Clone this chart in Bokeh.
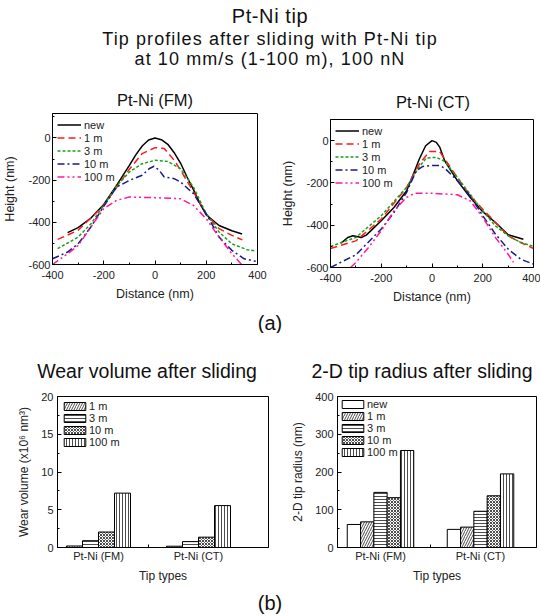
from bokeh.plotting import figure
from bokeh.layouts import column, row
from bokeh.models import Div, Legend, FixedTicker, Range1d, ColumnDataSource
from bokeh.transform import dodge
from bokeh.embed import file_html
from bokeh.resources import INLINE

FONT = "Liberation Sans"

# ---------------- texts ----------------
main_title = "Pt-Ni tip"
sub_title_1 = "Tip profiles after sliding with Pt-Ni tip"
sub_title_2 = "at 10 mm/s (1-100 m), 100 nN"
fm_title = "Pt-Ni (FM)"
ct_title = "Pt-Ni (CT)"
wear_title = "Wear volume after sliding"
radius_title = "2-D tip radius after sliding"

# ---------------- data: (a) tip profiles ----------------
series_names = ["new", "1 m", "3 m", "10 m", "100 m"]

fm_new_x = [-341, -300, -250, -200, -150, -100, -75, -50, -25, 0, 25, 50, 75, 100, 125, 150, 175, 200, 250, 300, 340]
fm_new_y = [-449, -425, -380, -315, -225, -130, -80, -38, -10, 0, -8, -30, -70, -120, -185, -245, -310, -365, -415, -440, -455]
fm_1m_x = [-380, -300, -200, -150, -100, -50, 0, 36, 75, 100, 150, 200, 250, 300, 341]
fm_1m_y = [-481, -438, -320, -235, -148, -74, -46, -50, -106, -153, -256, -360, -430, -462, -483]
fm_3m_x = [-380, -300, -250, -200, -150, -100, -50, 0, 49, 100, 150, 200, 250, 300, 360, 390]
fm_3m_y = [-525, -470, -407, -320, -228, -161, -122, -106, -111, -146, -233, -360, -446, -502, -530, -535]
fm_10m_x = [-400, -341, -300, -250, -200, -150, -100, -50, -23, -4, 16, 36, 75, 100, 150, 200, 250, 300, 348, 393]
fm_10m_y = [-573, -541, -502, -422, -324, -233, -201, -177, -146, -134, -153, -185, -193, -209, -264, -360, -470, -533, -573, -585]
fm_100m_x = [-400, -341, -300, -250, -200, -150, -100, 0, 100, 150, 200, 250, 300, 341]
fm_100m_y = [-600, -549, -510, -422, -335, -296, -280, -283, -288, -320, -383, -470, -549, -604]

ct_new_x = [-358, -332, -312, -296, -279, -259, -200, -150, -100, -68, -50, -25, 0, 17, 31, 50, 100, 150, 200, 250, 300, 360]
ct_new_y = [-485, -458, -450, -453, -458, -447, -379, -316, -237, -142, -87, -24, 0, -8, -32, -95, -189, -268, -336, -387, -445, -466]
ct_1m_x = [-400, -300, -200, -100, -50, -10, 30, 50, 100, 150, 200, 250, 300, 350, 400]
ct_1m_y = [-510, -474, -371, -221, -111, -51, -51, -87, -174, -261, -324, -387, -450, -482, -510]
ct_3m_x = [-400, -300, -200, -100, -50, -22, 17, 50, 100, 150, 200, 250, 300, 350, 400]
ct_3m_y = [-500, -458, -355, -221, -123, -82, -79, -98, -174, -253, -332, -403, -450, -482, -500]
ct_10m_x = [-400, -300, -200, -150, -100, -62, -36, 0, 31, 50, 100, 150, 200, 250, 300, 350, 400]
ct_10m_y = [-600, -540, -418, -340, -245, -142, -122, -118, -118, -130, -189, -261, -355, -442, -513, -561, -584]
ct_100m_x = [-321, -300, -250, -200, -150, -100, -68, 0, 100, 150, 200, 250, 300, 321]
ct_100m_y = [-600, -576, -505, -426, -332, -268, -249, -249, -256, -284, -363, -458, -537, -576]

x_ticks = [-400, -200, 0, 200, 400]
x_minor = [-300, -100, 100, 300]
y_ticks = [-600, -400, -200, 0]
y_minor = [-500, -300, -100, 100]

# ---------------- data: (b) bar charts ----------------
tip_types = ["Pt-Ni (FM)", "Pt-Ni (CT)"]
wear_labels = ["1 m", "3 m", "10 m", "100 m"]
wear_1m = [0.2, 0.17]
wear_3m = [0.9, 0.78]
wear_10m = [2.05, 1.37]
wear_100m = [7.2, 5.55]
wear_ticks = [0, 5, 10, 15, 20]
wear_minor = [2.5, 7.5, 12.5, 17.5]

radius_labels = ["new", "1 m", "3 m", "10 m", "100 m"]
radius_new = [61, 48]
radius_1m = [68, 54]
radius_3m = [146, 96]
radius_10m = [132, 137]
radius_100m = [257, 195]
radius_ticks = [0, 100, 200, 300, 400]
radius_minor = [50, 150, 250, 350]

# ---------------- styles ----------------
line_colors = ["#000000", "#ff1a1a", "#1aa01a", "#1a1a8c", "#ff1a9c"]
line_dashes = ["solid", "7 4", "3 2", "7 3 2 3", "7 3 2 3 2 3"]
hatches = {"new": (None, 4), "1 m": ("right_diagonal_line", 5), "3 m": ("horizontal_line", 3),
           "10 m": ("diagonal_cross", 3), "100 m": ("vertical_line", 3)}


def style_axes(p, label_size, tick_std, xlab_std, ylab_std):
    p.xgrid.visible = False
    p.ygrid.visible = False
    p.border_fill_alpha = 0
    p.outline_line_color = "black"
    p.outline_line_alpha = 1
    p.outline_line_width = 1
    for ax in (p.xaxis[0], p.yaxis[0]):
        ax.axis_line_color = "black"
        ax.major_tick_line_color = "black"
        ax.minor_tick_line_color = "black"
        ax.major_tick_in = 4
        ax.major_tick_out = 0
        ax.minor_tick_in = 2
        ax.minor_tick_out = 0
        ax.major_label_text_font = FONT
        ax.major_label_text_font_size = "11px"
        ax.major_label_text_color = "#222"
        ax.axis_label_text_font = FONT
        ax.axis_label_text_font_size = label_size
        ax.axis_label_text_font_style = "normal"
        ax.axis_label_text_color = "#222"
    p.xaxis.major_label_standoff = tick_std[0]
    p.yaxis.major_label_standoff = tick_std[1]
    p.xaxis.axis_label_standoff = xlab_std
    p.yaxis.axis_label_standoff = ylab_std


def profile_fig(xs, ys, ytop, width, height, bl, br, bt, bb):
    p = figure(width=width, height=height, x_range=Range1d(-400, 400), y_range=Range1d(-600, ytop),
               output_backend="svg", toolbar_location=None, title=None,
               min_border_left=bl, min_border_right=br, min_border_top=bt, min_border_bottom=bb)
    style_axes(p, "12.5px", (6, 2), 5, 8)
    p.xaxis.axis_label = "Distance (nm)"
    p.yaxis.axis_label = "Height (nm)"
    p.xaxis.ticker = FixedTicker(ticks=x_ticks, minor_ticks=x_minor)
    p.yaxis.ticker = FixedTicker(ticks=y_ticks, minor_ticks=y_minor)
    p.xaxis.major_label_overrides = {t: str(t) for t in x_ticks}
    p.yaxis.major_label_overrides = {t: str(t) for t in y_ticks}
    items = []
    for name, x, y, c, d in zip(series_names, xs, ys, line_colors, line_dashes):
        r = p.line(x, y, line_color=c, line_dash=d, line_width=1.5)
        items.append((name, [r]))
    leg = Legend(items=items, location="top_left", background_fill_alpha=0, border_line_alpha=0,
                 label_text_font=FONT, label_text_font_size="11px", label_text_color="#222",
                 glyph_width=24, glyph_height=13, label_height=13, spacing=0,
                 padding=3, margin=2, label_standoff=3)
    p.add_layout(leg)
    return p


def bar_fig(labels, series, ytop, yt, ym, ylabel, xr, bw, width, height, bl, br, bt, bb, lm, lp):
    p = figure(width=width, height=height, x_range=Range1d(*xr), y_range=Range1d(0, ytop),
               output_backend="svg", toolbar_location=None, title=None,
               min_border_left=bl, min_border_right=br, min_border_top=bt, min_border_bottom=bb)
    style_axes(p, "12px", (2, 4), 4, 7)
    p.xaxis.axis_label = "Tip types"
    p.yaxis.axis_label = ylabel
    pos = [i + 1 for i in range(len(tip_types))]
    p.xaxis.ticker = FixedTicker(ticks=pos, minor_ticks=[(pos[0] + pos[1]) / 2])
    p.xaxis.major_label_overrides = {k: v for k, v in zip(pos, tip_types)}
    p.xaxis.major_tick_in = 0
    p.xaxis.minor_tick_in = 3
    p.yaxis.ticker = FixedTicker(ticks=yt, minor_ticks=ym)
    p.yaxis.major_label_overrides = {t: str(t) for t in yt}
    n = len(labels)
    items = []
    for k, (lab, vals) in enumerate(zip(labels, series)):
        src = ColumnDataSource(dict(x=pos, top=vals))
        off = (k - (n - 1) / 2) * bw
        pat, sc = hatches[lab]
        kw = {}
        if pat:
            kw = dict(hatch_pattern=pat, hatch_scale=sc, hatch_color="black", hatch_weight=0.7)
        r = p.vbar(x=dodge("x", off, range=p.x_range), top="top", width=bw, source=src,
                   fill_color="white", line_color="black", line_width=1, **kw)
        items.append((lab, [r]))
    leg = Legend(items=items, location="top_left", background_fill_alpha=0, border_line_alpha=0,
                 label_text_font=FONT, label_text_font_size="11px", label_text_color="#222",
                 glyph_width=27, glyph_height=10, label_height=12, spacing=0,
                 padding=lp, margin=lm, label_standoff=1)
    p.add_layout(leg)
    return p


def text_div(parts, w, h, overflow="hidden"):
    inner = "".join(
        f"<div style=\"position:absolute;left:{l}px;width:{wd}px;top:{t}px;font-family:'{FONT}',Arial,sans-serif;"
        f"font-size:{fs}px;line-height:{lh}px;letter-spacing:{ls}px;color:#111;text-align:center;white-space:nowrap\">{txt}</div>"
        for (txt, l, wd, t, fs, lh, ls) in parts)
    html = f"<div style='position:relative;width:{w}px;height:{h}px'>{inner}</div>"
    return Div(text=html, width=w, height=h, margin=(0, 0, 0, 0), styles={"overflow": overflow})


W = 540
top = text_div([
    (main_title, 0, W, 5, 20, 22, 0.6),
    (sub_title_1, 0, W, 29, 18, 20, 1.1),
    (sub_title_2, 0, W, 49, 18, 20, 1.1),
    (fm_title, 55, 200, 91, 16.5, 18, 0),
    (ct_title, 333, 200, 93, 16.5, 18, 0),
], W, 104, overflow="visible")

lab_a = text_div([("(a)", 0, W, 0, 20, 20, 0)], W, 20)

bar_titles = text_div([
    (wear_title, 0, 294, 27, 19.5, 22, 0),
    (radius_title, 292, 260, 27, 19.5, 22, 0),
], W, 53)

lab_b = text_div([("(b)", 0, W, 0, 20, 22, 0)], W, 22)

p_fm = profile_fig([fm_new_x, fm_1m_x, fm_3m_x, fm_10m_x, fm_100m_x],
                   [fm_new_y, fm_1m_y, fm_3m_y, fm_10m_y, fm_100m_y], 116, 270, 209, 52, 13, 9, 49)
p_ct = profile_fig([ct_new_x, ct_1m_x, ct_3m_x, ct_10m_x, ct_100m_x],
                   [ct_new_y, ct_1m_y, ct_3m_y, ct_10m_y, ct_100m_y], 100, 270, 209, 60, 7, 15, 46)

p_wear = bar_fig(wear_labels, [wear_1m, wear_3m, wear_10m, wear_100m],
                 20, wear_ticks, wear_minor, "Wear volume (x10\u2076 nm\u00b3)", (0.59, 2.70), 0.16,
                 270, 206, 57, 2, 10, 44, 2, 2)
p_rad = bar_fig(radius_labels, [radius_new, radius_1m, radius_3m, radius_10m, radius_100m],
                400, radius_ticks, radius_minor, "2-D tip radius (nm)", (0.57, 2.56), 0.133,
                270, 206, 67, 4, 9, 45, 1, 1)

layout = column(top, row(column(p_fm), column(p_ct)), lab_a, bar_titles, row(p_wear, p_rad), lab_b)

open("out.html", "w").write(file_html(layout, INLINE))
